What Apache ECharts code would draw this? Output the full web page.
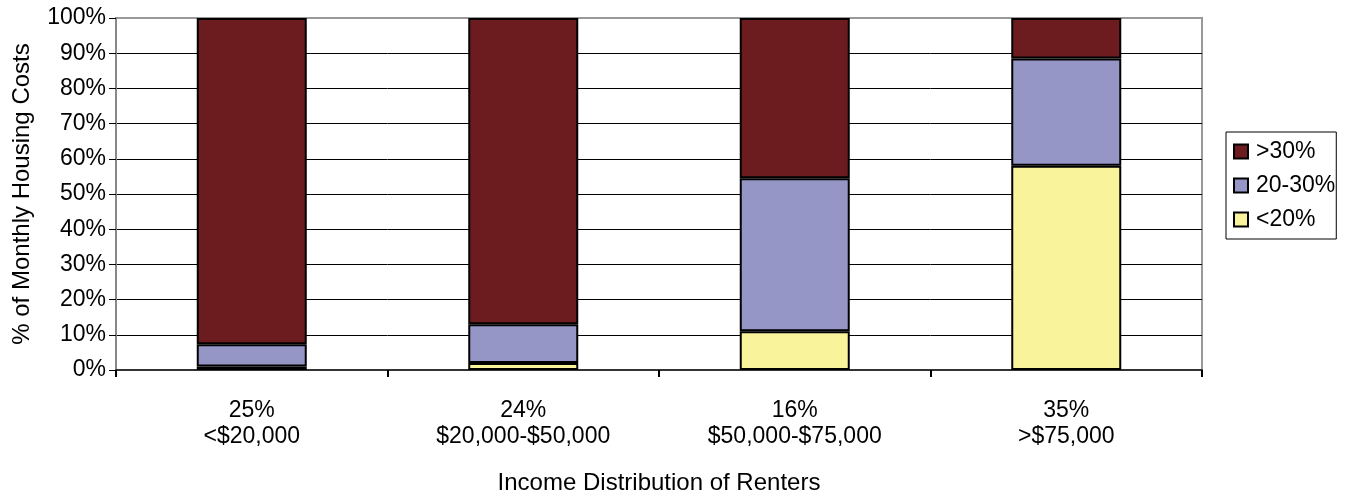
<!DOCTYPE html>
<html>
<head>
<meta charset="utf-8">
<script src="https://cdn.jsdelivr.net/npm/echarts@6/dist/echarts.min.js"></script>
<style>
html,body{margin:0;padding:0;background:#fff;}
#chart{width:1350px;height:493px;}
</style>
</head>
<body>
<div id="chart"></div>
<script>
// categories: share of renters + income band
var categories = ['25%\n<$20,000', '24%\n$20,000-$50,000', '16%\n$50,000-$75,000', '35%\n>$75,000'];
// share of households by housing cost as % of income
var under20 = [1, 2, 11, 58];
var from20to30 = [6.3, 11, 43.5, 30.5];
var over30 = [92.7, 87, 45.5, 11.5];
var yTicks = [0, 10, 20, 30, 40, 50, 60, 70, 80, 90, 100];

var chart = echarts.init(document.getElementById('chart'));
var font = 'Liberation Sans, Arial, sans-serif';
var barBorder = {borderColor:'#000', borderWidth:2};

var options = {
	animation:false,
	textStyle:{fontFamily:font},
	grid:{
		left:116, right:148, top:18, bottom:123,
		outerBoundsMode:'none',
		show:true, borderColor:'#999', borderWidth:2, backgroundColor:'transparent'
	},
	legend:{
		orient:'vertical',
		left:1226, top:132,
		data:['>30%', '20-30%', '<20%'],
		itemWidth:14, itemHeight:14, itemGap:11,
		padding:[8, 1, 8, 7],
		borderColor:'#000', borderWidth:1,
		textStyle:{fontSize:23, color:'#000', fontFamily:font, padding:[0,0,0,3]},
		icon:'rect'
	},
	xAxis:{
		type:'category',
		data:categories,
		axisLine:{lineStyle:{color:'#333', width:2}},
		axisTick:{show:true, length:7, lineStyle:{color:'#000', width:2}},
		axisLabel:{fontSize:23, color:'#000', lineHeight:26, margin:28, fontFamily:font},
		name:'Income Distribution of Renters',
		nameLocation:'middle',
		nameGap:101,
		nameTextStyle:{fontSize:24, color:'#000', fontFamily:font}
	},
	yAxis:{
		type:'value',
		min:0, max:100, interval:10,
		axisLine:{show:true, lineStyle:{color:'#888', width:2}},
		axisTick:{show:true, length:7, lineStyle:{color:'#000'}},
		axisLabel:{fontSize:23, color:'#000', margin:10, fontFamily:font,
			formatter:function(v){ return yTicks.indexOf(v) >= 0 ? v + '%' : ''; }},
		splitLine:{show:true, showMaxLine:false, lineStyle:{color:'#000', width:1}},
		name:'% of Monthly Housing Costs',
		nameLocation:'middle',
		nameGap:82,
		nameRotate:90,
		nameTextStyle:{fontSize:24, color:'#000', fontFamily:font}
	},
	series:[
		{name:'<20%', type:'bar', stack:'s', barWidth:110, data:under20,
			itemStyle:Object.assign({color:'#F9F39C'}, barBorder)},
		{name:'20-30%', type:'bar', stack:'s', barWidth:110, data:from20to30,
			itemStyle:Object.assign({color:'#9595C6'}, barBorder)},
		{name:'>30%', type:'bar', stack:'s', barWidth:110, data:over30,
			itemStyle:Object.assign({color:'#6C1C1F'}, barBorder)}
	]
};
chart.setOption(options);
</script>
</body>
</html>
